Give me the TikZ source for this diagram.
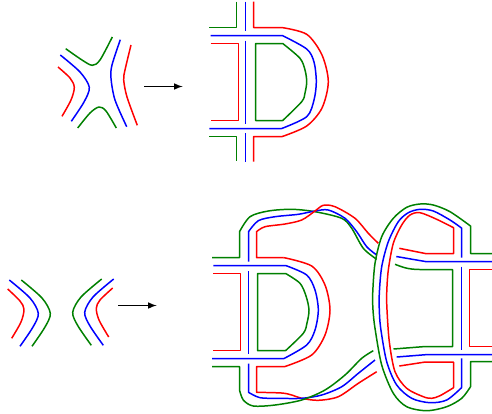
\documentclass[tikz,border=0pt]{standalone}
\usepackage{amsmath,amssymb}
\usetikzlibrary{calc,arrows}
\definecolor{dgreen}{rgb}{0,0.5,0}
\tikzset{
  rd/.style={red},
  bl/.style={blue},
  gr/.style={dgreen},
  map/.style={->,>=latex,black,line width=0.7pt}
}
\begin{document}
\begin{tikzpicture}[-,line width=0.85pt,color=black,x=0.02cm,y=-0.02cm,line join=round]
 	\useasboundingbox (0,0) rectangle (492,413);
 	% top left crossing
 	\draw[rd] plot[smooth] coordinates {(58,67) (70,78) (74.3,87.3) (71,100) (62,116.3)};
 	\draw[bl] plot[smooth] coordinates {(60.3,55) (80,72) (89.3,87.3) (84,102) (71.3,121.3)};
 	\draw[gr] plot[smooth] coordinates {(65.7,48.7) (82,60) (92.3,65.3) (100,60) (112.3,37)};
 	\draw[bl] plot[smooth] coordinates {(120.3,39.7) (112,65) (111,78.3) (115,100) (126.7,126.7)};
 	\draw[rd] plot[smooth] coordinates {(131,45) (125,70) (123.7,80) (127,97) (137.3,125.3)};
 	\draw[gr] plot[smooth] coordinates {(77.7,128) (90,113) (99,107) (106,111) (116.3,128)};
 	\coordinate (a1) at (144,86.5);
 	\coordinate (a2) at (182.7,86.5);
 	\draw[map] (a1) -- (a2);
 	% top right picture
 	\draw[gr] (236.5,1.7) -- (236.5,27.5) -- (209.3,27.5);
 	\draw[bl] (245.5,1.7) -- (245.5,30.7);
 	\draw[bl] (245.5,40.7) -- (245.5,124);
 	\draw[bl] (245.5,133.3) -- (245.5,161.7);
 	\draw[rd] (253.5,1.7) -- (253.5,27.5) -- (281.7,27.5)
 	  -- plot[smooth] coordinates {(281.7,27.5) (306.7,34.3) (322,55) (328.3,81.7) (322,108) (306.7,126) (282.3,136.5)}
 	  -- (253.5,136.5) -- (253.5,161.7);
 	\draw[bl] (210.7,35.5) -- (282.3,35.5)
 	  -- plot[smooth] coordinates {(282.3,35.5) (306.7,49) (314,62) (316.3,81.7) (314,100) (306.7,116.7) (281.7,128.5)}
 	  -- (209.3,128.5);
 	\draw[rd] (210.7,43.5) -- (238.5,43.5) -- (238.5,120.5) -- (210.7,120.5);
 	\draw[gr] (255.5,43.5) -- (282.7,43.5)
 	  -- plot[smooth] coordinates {(282.7,43.5) (300,58.3) (305,70) (306.7,81.7) (305,93) (301.7,101.7) (282.7,120.5)}
 	  -- (255.5,120.5) -- cycle;
 	\draw[gr] (209.3,136.5) -- (236.5,136.5) -- (236.5,160.7);
 	% bottom left crossing
 	\draw[rd] plot[smooth] coordinates {(7.7,289) (20,301) (24,309.3) (21,322) (11.7,338.3)};
 	\draw[bl] plot[smooth] coordinates {(9.3,280) (30,298) (38.3,313.3) (33,327) (20,346.3)};
 	\draw[gr] plot[smooth] coordinates {(21.3,280) (42,298) (50.3,313.3) (45,327) (32,346.3)};
 	\draw[gr] plot[smooth] coordinates {(101.7,279) (81,297) (72.7,312.3) (78,326) (91.3,345.3)};
 	\draw[bl] plot[smooth] coordinates {(113.7,279) (93,297) (84.7,312.3) (90,326) (103.3,345.3)};
 	\draw[rd] plot[smooth] coordinates {(112.7,288) (100,300) (96.3,308.3) (99,320) (108.7,337)};
 	\coordinate (b1) at (118,305.5);
 	\coordinate (b2) at (156.7,305.5);
 	\draw[map] (b1) -- (b2);
 	% bottom picture, left part
 	\draw[gr] (212,257.5) -- (239.5,257.5) -- (239.5,231.7)
 	  -- plot[smooth] coordinates {(239.5,231.7) (250,216.7) (268.3,211) (291.7,209.3) (315,211.7) (341.7,218.3) (351.7,228.3) (363.3,248.3) (376.7,259.3)};
 	\draw[bl] (248.5,261.7) -- (248.5,231.7)
 	  -- plot[smooth] coordinates {(248.5,231.7) (258.3,220.7) (275,216.7) (298.3,214.3) (315,211) (328.3,210) (345,218.3) (356.7,231.7) (366.7,246.7) (376.7,255)};
 	\draw[rd] (283.3,257.5) -- (256.5,257.5) -- (256.5,231.7)
 	  -- plot[smooth] coordinates {(256.5,231.7) (265,226.7) (285,224) (301.7,220) (315,211) (323.3,205.3) (335,206.7) (355,218.3) (368.3,233.3) (378.3,243.3)};
 	\draw[rd] plot[smooth] coordinates {(283.3,257.5) (311.7,266) (325,285) (330,310) (325,335) (311.7,355) (285,366.5)};
 	\draw[rd] (285,366.5) -- (256.5,366.5) -- (256.5,392.3)
 	  -- plot[smooth] coordinates {(256.5,392.3) (281.7,393) (291.7,395) (301.7,398.3) (318.3,400.3) (338.3,396.7) (358.3,383.3) (376.7,371.7)};
 	\draw[bl] (213.3,265.5) -- (285.7,265.5)
 	  -- plot[smooth] coordinates {(285.7,265.5) (306.7,275) (315,290) (318.3,310) (315,330) (306.7,345) (284,358.5)}
 	  -- (212,358.5);
 	\draw[rd] (213.3,273.5) -- (240.5,273.5) -- (240.5,350.5) -- (213.3,350.5);
 	\draw[gr] (257.5,273.5) -- (285.7,273.5)
 	  -- plot[smooth] coordinates {(285.7,273.5) (300,283.3) (306,296) (309,310) (307,323) (303.3,333.3) (285.7,350.5)}
 	  -- (257.5,350.5) -- cycle;
 	\draw[bl] (248.5,271) -- (248.5,354.3);
 	\draw[bl] (248.5,363.5) -- (248.5,392.3)
 	  -- plot[smooth] coordinates {(248.5,392.3) (260,397.7) (278.3,398.3) (301.7,398.3) (321.7,395) (341.7,386.7) (358.3,373.3) (375,360)};
 	\draw[gr] (212,366.5) -- (239.5,366.5) -- (239.5,390)
 	  -- plot[smooth] coordinates {(239.5,390) (243.3,400) (253.3,406) (275,405) (301.7,400) (325,390) (345,375) (361.7,358.3) (373.3,350.7)};
 	% bottom picture, right part
 	\draw[gr] (492,253.5) -- (470.5,253.5) -- (470.5,226)
 	  -- plot[smooth] coordinates {(470.5,226) (450,211.7) (433.3,205) (420,204) (406.7,207.3) (393.3,218.3) (381.7,236.7) (375,263.3) (372.7,293.3) (373,310) (375,328.3) (381.7,365) (393.3,393.3) (406.7,406.7) (426.7,410.7) (446.7,406.7) (461.7,398.3) (470.5,386.7)}
 	  -- (470.5,361.5) -- (492,361.5);
 	\draw[bl] (492,261.5) -- (425.3,261.5) -- (396.3,256.5);
 	\draw[bl] (461.5,257.7) -- (461.5,228)
 	  -- plot[smooth] coordinates {(461.5,228) (450,220) (433.3,211) (420,209.3) (408.3,212.7) (398.3,221.7) (388.3,241.7) (381.7,266.7) (379.3,293.3) (379.3,310) (380.7,328.3) (386.7,361.7) (396.7,385) (411.7,398.3) (430,402.7) (446.7,400) (461.5,387.7)}
 	  -- (461.5,358.3);
 	\draw[bl] (461.5,266.7) -- (461.5,350.3);
 	\draw[bl] (492,354.5) -- (428,354.5) -- (396.7,357);
 	\draw[rd] (399.3,248.3) -- (425.3,253.5) -- (453.5,253.5) -- (453.5,227.7)
 	  -- plot[smooth] coordinates {(453.5,227.7) (436.7,219.3) (420,212.7) (410,215) (401.7,225) (393.3,243.3) (388.3,270) (386.7,293.3) (387,310) (389.3,341.7) (395,371.7) (406.7,388.3) (423.3,396.7) (431.7,398.3) (440,395.7) (453.5,387.7)}
 	  -- (453.5,362) -- (425.3,362) -- (399.3,366);
 	\draw[gr] (395,264.3) .. controls (402,267) and (408,269.5) .. (420,269.5) -- (452.5,269.5) -- (452.5,346.5) -- (425.3,346.5) -- (393.5,349);
 	\draw[rd] (492,269.5) -- (469.5,269.5) -- (469.5,346.5) -- (492,346.5);
\end{tikzpicture}
\end{document}
